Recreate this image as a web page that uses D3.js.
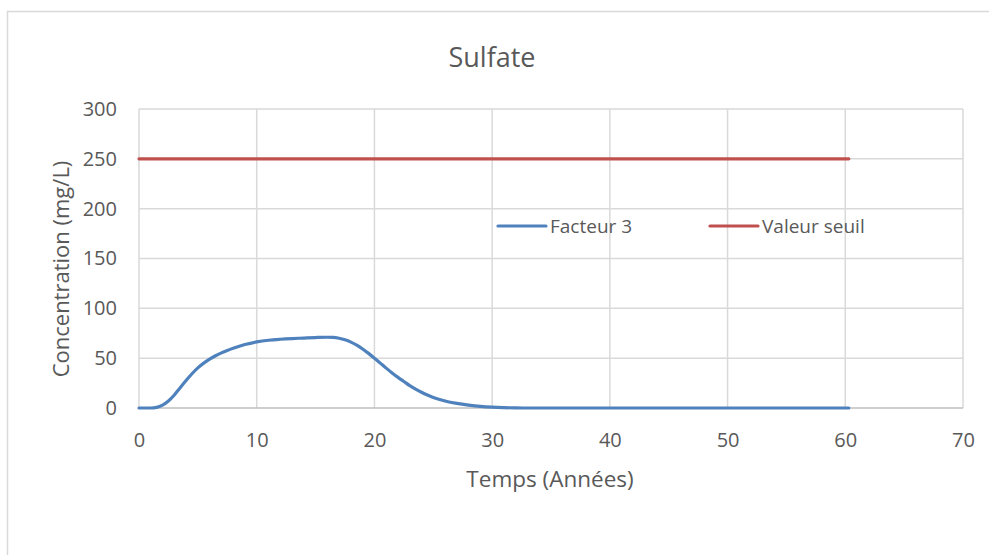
<!DOCTYPE html>
<html>
<head>
<meta charset="utf-8">
<script src="https://cdn.jsdelivr.net/npm/d3@7"></script>
<style>
  body { margin: 0; background: #fff; }
  svg { display: block; font-family: "Open Sans", sans-serif; }
</style>
</head>
<body>
<div id="chart"></div>
<script>
// values
var years = [0, 1, 1.5, 2, 2.5, 3, 3.5, 4, 4.5, 5, 5.5, 6, 6.5, 7, 7.5, 8, 9, 10, 11, 12, 13, 14, 15, 16, 16.5,
             17, 17.5, 18, 18.5, 19, 19.5, 20, 20.5, 21, 21.5, 22, 22.5, 23, 23.5, 24, 24.5, 25,
             26, 27, 28, 29, 30, 31, 32, 33, 35, 40, 50, 60.3];
var facteur3 = [0, 0, 0.6, 2.9, 7, 13, 20.4, 27.5, 34.4, 40.3, 45, 49, 52.4, 55.3, 57.8, 60, 63.7, 66.3, 68, 69, 69.7, 70.2, 70.7, 71, 70.9,
                70, 68.4, 66.1, 63, 59.2, 54.8, 50, 45, 40, 35.2, 30.7, 26.6, 22.5, 19, 15.8, 13, 10.6,
                7, 4.6, 2.9, 1.6, 0.8, 0.35, 0.1, 0, 0, 0, 0, 0];
var seuilYears = [0, 60.3];
var seuilValues = [250, 250];
var xTicks = [0, 10, 20, 30, 40, 50, 60, 70];
var yTicks = [0, 50, 100, 150, 200, 250, 300];
var seriesNames = ["Facteur 3", "Valeur seuil"];
var seriesColors = ["#4F81BD", "#C0504D"];

var width = 989, height = 555;
var margin = {left: 139, right: 26, top: 109, bottom: 147};
var textColor = "#595959", gridColor = "#D9D9D9";

var svg = d3.select("#chart").append("svg")
    .attr("width", width)
    .attr("height", height);

// chart border (only top and left visible in the frame)
svg.append("path")
    .attr("d", "M7.5,555 V11.5 H989")
    .attr("fill", "none")
    .attr("stroke", gridColor)
    .attr("stroke-width", 1.5);

var x = d3.scaleLinear().domain([0, 70]).range([margin.left, width - margin.right]);
var y = d3.scaleLinear().domain([0, 300]).range([height - margin.bottom, margin.top]);

// gridlines
svg.append("g").selectAll("line.v").data(xTicks).enter().append("line")
    .attr("x1", d => x(d)).attr("x2", d => x(d))
    .attr("y1", y(0)).attr("y2", y(300))
    .attr("stroke", gridColor).attr("stroke-width", 1.5);
svg.append("g").selectAll("line.h").data(yTicks).enter().append("line")
    .attr("x1", x(0)).attr("x2", x(70))
    .attr("y1", d => y(d)).attr("y2", d => y(d))
    .attr("stroke", d => d === 0 ? "#BFBFBF" : gridColor).attr("stroke-width", 1.5);

// axes
var xAxis = svg.append("g")
    .attr("transform", "translate(0," + y(0) + ")")
    .call(d3.axisBottom(x).tickValues(xTicks).tickSize(0).tickPadding(25));
var yAxis = svg.append("g")
    .attr("transform", "translate(" + x(0) + ",0)")
    .call(d3.axisLeft(y).tickValues(yTicks).tickSize(0).tickPadding(22));
[xAxis, yAxis].forEach(function (a) {
    a.select(".domain").remove();
    a.selectAll("text").attr("fill", textColor).style("font-size", "20px")
        .style("font-family", "'Open Sans', sans-serif");
});

// lines
var line = d3.line().curve(d3.curveMonotoneX).x(d => x(d[0])).y(d => y(d[1]));

svg.append("path")
    .datum(seuilYears.map((t, i) => [t, seuilValues[i]]))
    .attr("d", line)
    .attr("fill", "none")
    .attr("stroke", seriesColors[1])
    .attr("stroke-width", 3.2)
    .attr("stroke-linecap", "round");

svg.append("path")
    .datum(years.map((t, i) => [t, facteur3[i]]))
    .attr("d", line)
    .attr("fill", "none")
    .attr("stroke", seriesColors[0])
    .attr("stroke-width", 3.2)
    .attr("stroke-linecap", "round")
    .attr("stroke-linejoin", "round");

// title
svg.append("text")
    .attr("x", 492).attr("y", 67)
    .attr("text-anchor", "middle")
    .attr("fill", textColor)
    .style("font-size", "27px")
    .text("Sulfate");

// axis titles
svg.append("text")
    .attr("x", 550).attr("y", 487)
    .attr("text-anchor", "middle")
    .attr("fill", textColor)
    .style("font-size", "22.5px")
    .text("Temps (Années)");

svg.append("text")
    .attr("transform", "translate(69,269) rotate(-90)")
    .attr("text-anchor", "middle")
    .attr("fill", textColor)
    .style("font-size", "22px")
    .text("Concentration (mg/L)");

// legend
var legendX = [498, 710];
var legend = svg.append("g").selectAll("g").data(seriesNames).enter().append("g")
    .attr("transform", (d, i) => "translate(" + legendX[i] + ",226)");
legend.append("line")
    .attr("x1", 0).attr("x2", 48)
    .attr("stroke", (d, i) => seriesColors[i])
    .attr("stroke-width", 3.2)
    .attr("stroke-linecap", "round");
legend.append("text")
    .attr("x", 52).attr("dy", "0.35em")
    .attr("fill", textColor)
    .style("font-size", "19px")
    .text(d => d);
</script>
</body>
</html>
